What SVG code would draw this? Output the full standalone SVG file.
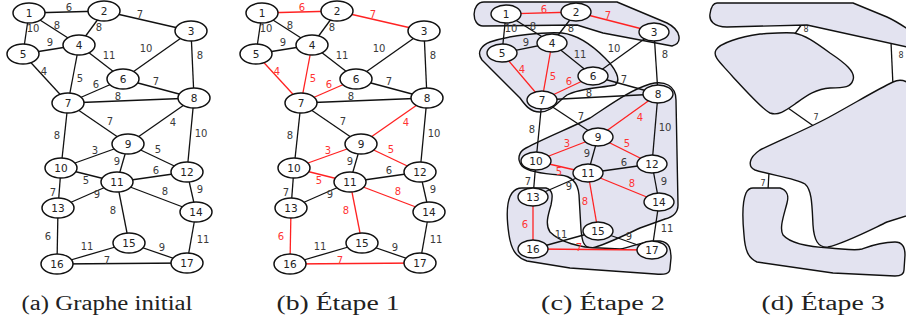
<svg xmlns="http://www.w3.org/2000/svg" width="906" height="322" viewBox="0 0 906 322">
<style>
.e line{stroke:#111;stroke-width:1.3}
.e line.r{stroke:#f22}
.n ellipse{fill:#fff;stroke:#111;stroke-width:1.5}
.n text{font-family:"DejaVu Sans",sans-serif;font-size:10.5px;fill:#222;text-anchor:middle}
.c .n ellipse{stroke-width:1.4}
.l text{font-family:"DejaVu Sans",sans-serif;font-size:10px;fill:#3a3a3a;text-anchor:middle}
.l text.r{fill:#f33}
.blob{fill:#e3e3f0;stroke:#111;stroke-width:1.4;stroke-linejoin:round}
.dl{font-family:"DejaVu Sans",sans-serif;font-size:8px;fill:#333;text-anchor:middle}
</style>
<rect width="906" height="322" fill="#fff"/>

<!-- Panel a -->
<g id="panel-a">
<g id="a-edges" class="e">
<line x1="29" y1="13" x2="104" y2="11"/><line x1="104" y1="11" x2="191" y2="31"/><line x1="29" y1="13" x2="79" y2="45"/><line x1="29" y1="13" x2="23" y2="54"/><line x1="104" y1="11" x2="79" y2="45"/><line x1="23" y1="54" x2="79" y2="45"/><line x1="79" y1="45" x2="123" y2="79"/><line x1="191" y1="31" x2="123" y2="79"/><line x1="191" y1="31" x2="194" y2="98"/><line x1="23" y1="54" x2="68" y2="103"/><line x1="79" y1="45" x2="68" y2="103"/><line x1="68" y1="103" x2="123" y2="79"/><line x1="123" y1="79" x2="194" y2="98"/><line x1="68" y1="103" x2="194" y2="98"/><line x1="68" y1="103" x2="128" y2="144"/><line x1="194" y1="98" x2="128" y2="144"/><line x1="194" y1="98" x2="187" y2="172"/><line x1="68" y1="103" x2="61" y2="168"/><line x1="128" y1="144" x2="61" y2="168"/><line x1="128" y1="144" x2="187" y2="172"/><line x1="128" y1="144" x2="117" y2="182"/><line x1="61" y1="168" x2="117" y2="182"/><line x1="117" y1="182" x2="187" y2="172"/><line x1="187" y1="172" x2="196" y2="212"/><line x1="61" y1="168" x2="58" y2="208"/><line x1="58" y1="208" x2="117" y2="182"/><line x1="117" y1="182" x2="196" y2="212"/><line x1="117" y1="182" x2="129" y2="243"/><line x1="58" y1="208" x2="57" y2="264"/><line x1="196" y1="212" x2="187" y2="263"/><line x1="129" y1="243" x2="57" y2="264"/><line x1="129" y1="243" x2="187" y2="263"/><line x1="57" y1="264" x2="187" y2="263"/>
</g>
<g id="a-labels" class="l">
<text x="69" y="11">6</text><text x="140" y="18">7</text><text x="57" y="29">8</text><text x="33" y="32">10</text><text x="99" y="31">8</text><text x="50" y="46">9</text><text x="109" y="59">11</text><text x="146" y="52">10</text><text x="200" y="59">8</text><text x="44" y="75">4</text><text x="80" y="82">5</text><text x="96" y="88">6</text><text x="156" y="85">7</text><text x="118" y="100">8</text><text x="110" y="125">7</text><text x="173" y="126">4</text><text x="201" y="137">10</text><text x="57" y="139">8</text><text x="95" y="154">3</text><text x="158" y="153">5</text><text x="117" y="165">9</text><text x="86" y="184">5</text><text x="156" y="174">6</text><text x="200" y="193">9</text><text x="53" y="196">7</text><text x="97" y="198">9</text><text x="165" y="195">8</text><text x="113" y="214">8</text><text x="48" y="240">6</text><text x="203" y="243">11</text><text x="87" y="250">11</text><text x="162" y="251">9</text><text x="107" y="264">7</text>
</g>
<g id="a-nodes">
<g id="a1" class="n"><ellipse cx="29" cy="13" rx="16" ry="10"/><text x="29" y="17">1</text></g>
<g id="a2" class="n"><ellipse cx="104" cy="11" rx="16" ry="10"/><text x="104" y="15">2</text></g>
<g id="a3" class="n"><ellipse cx="191" cy="31" rx="16" ry="10"/><text x="191" y="35">3</text></g>
<g id="a4" class="n"><ellipse cx="79" cy="45" rx="16" ry="10"/><text x="79" y="49">4</text></g>
<g id="a5" class="n"><ellipse cx="23" cy="54" rx="16" ry="10"/><text x="23" y="58">5</text></g>
<g id="a6" class="n"><ellipse cx="123" cy="79" rx="16" ry="10"/><text x="123" y="83">6</text></g>
<g id="a7" class="n"><ellipse cx="68" cy="103" rx="16" ry="10"/><text x="68" y="107">7</text></g>
<g id="a8" class="n"><ellipse cx="194" cy="98" rx="16" ry="10"/><text x="194" y="102">8</text></g>
<g id="a9" class="n"><ellipse cx="128" cy="144" rx="16" ry="10"/><text x="128" y="148">9</text></g>
<g id="a10" class="n"><ellipse cx="61" cy="168" rx="16" ry="10"/><text x="61" y="172">10</text></g>
<g id="a11" class="n"><ellipse cx="117" cy="182" rx="16" ry="10"/><text x="117" y="186">11</text></g>
<g id="a12" class="n"><ellipse cx="187" cy="172" rx="16" ry="10"/><text x="187" y="176">12</text></g>
<g id="a13" class="n"><ellipse cx="58" cy="208" rx="16" ry="10"/><text x="58" y="212">13</text></g>
<g id="a14" class="n"><ellipse cx="196" cy="212" rx="16" ry="10"/><text x="196" y="216">14</text></g>
<g id="a15" class="n"><ellipse cx="129" cy="243" rx="16" ry="10"/><text x="129" y="247">15</text></g>
<g id="a16" class="n"><ellipse cx="57" cy="264" rx="16" ry="10"/><text x="57" y="268">16</text></g>
<g id="a17" class="n"><ellipse cx="187" cy="263" rx="16" ry="10"/><text x="187" y="267">17</text></g>
</g>
</g>

<!-- Panel b -->
<g id="panel-b">
<g id="b-edges" class="e">
<line class="r" x1="262" y1="13" x2="337" y2="11"/><line class="r" x1="337" y1="11" x2="424" y2="31"/><line x1="262" y1="13" x2="312" y2="45"/><line x1="262" y1="13" x2="256" y2="54"/><line x1="337" y1="11" x2="312" y2="45"/><line x1="256" y1="54" x2="312" y2="45"/><line x1="312" y1="45" x2="356" y2="79"/><line x1="424" y1="31" x2="356" y2="79"/><line x1="424" y1="31" x2="427" y2="98"/><line class="r" x1="256" y1="54" x2="301" y2="103"/><line class="r" x1="312" y1="45" x2="301" y2="103"/><line class="r" x1="301" y1="103" x2="356" y2="79"/><line x1="356" y1="79" x2="427" y2="98"/><line x1="301" y1="103" x2="427" y2="98"/><line x1="301" y1="103" x2="361" y2="144"/><line class="r" x1="427" y1="98" x2="361" y2="144"/><line x1="427" y1="98" x2="420" y2="172"/><line x1="301" y1="103" x2="294" y2="168"/><line class="r" x1="361" y1="144" x2="294" y2="168"/><line class="r" x1="361" y1="144" x2="420" y2="172"/><line x1="361" y1="144" x2="350" y2="182"/><line class="r" x1="294" y1="168" x2="350" y2="182"/><line x1="350" y1="182" x2="420" y2="172"/><line x1="420" y1="172" x2="429" y2="212"/><line x1="294" y1="168" x2="291" y2="208"/><line x1="291" y1="208" x2="350" y2="182"/><line class="r" x1="350" y1="182" x2="429" y2="212"/><line class="r" x1="350" y1="182" x2="362" y2="243"/><line class="r" x1="291" y1="208" x2="290" y2="264"/><line x1="429" y1="212" x2="420" y2="263"/><line x1="362" y1="243" x2="290" y2="264"/><line x1="362" y1="243" x2="420" y2="263"/><line class="r" x1="290" y1="264" x2="420" y2="263"/>
</g>
<g id="b-labels" class="l">
<text class="r" x="302" y="11">6</text><text class="r" x="373" y="18">7</text><text x="290" y="29">8</text><text x="266" y="32">10</text><text x="332" y="31">8</text><text x="283" y="46">9</text><text x="342" y="59">11</text><text x="379" y="52">10</text><text x="433" y="59">8</text><text class="r" x="277" y="75">4</text><text class="r" x="313" y="82">5</text><text class="r" x="329" y="88">6</text><text x="389" y="85">7</text><text x="351" y="100">8</text><text x="343" y="125">7</text><text class="r" x="406" y="126">4</text><text x="434" y="137">10</text><text x="290" y="139">8</text><text class="r" x="328" y="154">3</text><text class="r" x="391" y="153">5</text><text x="350" y="165">9</text><text class="r" x="319" y="184">5</text><text x="389" y="174">6</text><text x="433" y="193">9</text><text x="286" y="196">7</text><text x="330" y="198">9</text><text class="r" x="398" y="195">8</text><text class="r" x="346" y="214">8</text><text class="r" x="281" y="240">6</text><text x="436" y="243">11</text><text x="320" y="250">11</text><text x="395" y="251">9</text><text class="r" x="340" y="264">7</text>
</g>
<g id="b-nodes">
<g id="b1" class="n"><ellipse cx="262" cy="13" rx="16" ry="10"/><text x="262" y="17">1</text></g>
<g id="b2" class="n"><ellipse cx="337" cy="11" rx="16" ry="10"/><text x="337" y="15">2</text></g>
<g id="b3" class="n"><ellipse cx="424" cy="31" rx="16" ry="10"/><text x="424" y="35">3</text></g>
<g id="b4" class="n"><ellipse cx="312" cy="45" rx="16" ry="10"/><text x="312" y="49">4</text></g>
<g id="b5" class="n"><ellipse cx="256" cy="54" rx="16" ry="10"/><text x="256" y="58">5</text></g>
<g id="b6" class="n"><ellipse cx="356" cy="79" rx="16" ry="10"/><text x="356" y="83">6</text></g>
<g id="b7" class="n"><ellipse cx="301" cy="103" rx="16" ry="10"/><text x="301" y="107">7</text></g>
<g id="b8" class="n"><ellipse cx="427" cy="98" rx="16" ry="10"/><text x="427" y="102">8</text></g>
<g id="b9" class="n"><ellipse cx="361" cy="144" rx="16" ry="10"/><text x="361" y="148">9</text></g>
<g id="b10" class="n"><ellipse cx="294" cy="168" rx="16" ry="10"/><text x="294" y="172">10</text></g>
<g id="b11" class="n"><ellipse cx="350" cy="182" rx="16" ry="10"/><text x="350" y="186">11</text></g>
<g id="b12" class="n"><ellipse cx="420" cy="172" rx="16" ry="10"/><text x="420" y="176">12</text></g>
<g id="b13" class="n"><ellipse cx="291" cy="208" rx="16" ry="10"/><text x="291" y="212">13</text></g>
<g id="b14" class="n"><ellipse cx="429" cy="212" rx="16" ry="10"/><text x="429" y="216">14</text></g>
<g id="b15" class="n"><ellipse cx="362" cy="243" rx="16" ry="10"/><text x="362" y="247">15</text></g>
<g id="b16" class="n"><ellipse cx="290" cy="264" rx="16" ry="10"/><text x="290" y="268">16</text></g>
<g id="b17" class="n"><ellipse cx="420" cy="263" rx="16" ry="10"/><text x="420" y="267">17</text></g>
</g>
</g>

<!-- Panel c -->
<g id="panel-c" class="c">
<g id="c-clusters">
<path id="c-blob1" class="blob" d="M484,2 L617,2 L667,23 C681,30 683,43 672,46 L603,33 L577,25 L483,26 C471,26 471,2 484,2 Z"/>
<path id="c-blob2" class="blob" d="M490,42 C510,35 545,32 562,33 C580,35 595,48 605,58 C615,68 622,80 615,85 C600,88 580,88 567,95 C557,102 552,112 540,112 C530,112 525,105 520,98 L482,60 C476,52 482,45 490,42 Z"/>
<path id="c-blob3" class="blob" d="M650,84 C665,80 676,86 676,100 L678,205 C678,213 673,217 665,219 L640,228 C625,235 605,245 592,248 C583,248 582,240 581,230 L579,195 C578,183 572,176 560,175 C545,174 528,172 522,166 C517,160 518,152 526,148 C545,138 570,128 590,118 C610,105 630,90 650,84 Z"/>
<path id="c-blob4" class="blob" d="M522,188 L546,188 C553,190 553,196 551,205 C548,215 545,225 550,232 C560,242 580,248 600,248 L620,249 C632,247 645,240 660,241 C670,242 671,250 671,258 L670,268 C670,274 665,275 655,274 L570,268 L527,261 C515,257 511,248 509,235 C506,215 507,200 512,193 C515,189 518,188 522,188 Z"/>
</g>
<g id="c-edges" class="e">
<line class="r" x1="506" y1="14" x2="576" y2="12"/><line class="r" x1="576" y1="12" x2="654" y2="32"/><line x1="506" y1="14" x2="552" y2="43"/><line x1="506" y1="14" x2="502" y2="53"/><line x1="576" y1="12" x2="552" y2="43"/><line x1="502" y1="53" x2="552" y2="43"/><line x1="552" y1="43" x2="593" y2="76"/><line x1="654" y1="32" x2="593" y2="76"/><line x1="654" y1="32" x2="658" y2="94"/><line class="r" x1="502" y1="53" x2="542" y2="100"/><line class="r" x1="552" y1="43" x2="542" y2="100"/><line class="r" x1="542" y1="100" x2="593" y2="76"/><line x1="593" y1="76" x2="658" y2="94"/><line x1="542" y1="100" x2="658" y2="94"/><line x1="542" y1="100" x2="598" y2="137"/><line class="r" x1="658" y1="94" x2="598" y2="137"/><line x1="658" y1="94" x2="652" y2="164"/><line x1="542" y1="100" x2="536" y2="161"/><line class="r" x1="598" y1="137" x2="536" y2="161"/><line class="r" x1="598" y1="137" x2="652" y2="164"/><line x1="598" y1="137" x2="588" y2="173"/><line class="r" x1="536" y1="161" x2="588" y2="173"/><line x1="588" y1="173" x2="652" y2="164"/><line x1="652" y1="164" x2="659" y2="202"/><line x1="536" y1="161" x2="533" y2="197"/><line x1="533" y1="197" x2="588" y2="173"/><line class="r" x1="588" y1="173" x2="659" y2="202"/><line class="r" x1="588" y1="173" x2="598" y2="231"/><line class="r" x1="533" y1="197" x2="533" y2="249"/><line x1="659" y1="202" x2="652" y2="250"/><line x1="598" y1="231" x2="533" y2="249"/><line x1="598" y1="231" x2="652" y2="250"/><line class="r" x1="533" y1="249" x2="652" y2="250"/>
</g>
<g id="c-labels" class="l">
<text class="r" x="544" y="13">6</text><text class="r" x="608" y="19">7</text><text x="533" y="30">8</text><text x="511" y="32">10</text><text x="571" y="32">8</text><text x="526" y="46">9</text><text x="580" y="58">11</text><text x="614" y="52">10</text><text x="665" y="58">8</text><text class="r" x="522" y="73">4</text><text class="r" x="553" y="80">5</text><text class="r" x="569" y="85">6</text><text x="624" y="83">7</text><text x="589" y="97">8</text><text x="581" y="120">7</text><text class="r" x="640" y="121">4</text><text x="665" y="131">10</text><text x="532" y="133">8</text><text class="r" x="567" y="147">3</text><text class="r" x="627" y="147">5</text><text x="587" y="157">9</text><text class="r" x="559" y="175">5</text><text x="624" y="166">6</text><text x="664" y="185">9</text><text x="528" y="185">7</text><text x="569" y="190">9</text><text class="r" x="632" y="187">8</text><text class="r" x="585" y="205">8</text><text class="r" x="525" y="228">6</text><text x="667" y="232">11</text><text x="561" y="238">11</text><text x="629" y="240">9</text><text class="r" x="579" y="251">7</text>
</g>
<g id="c-nodes">
<g id="c1" class="n"><ellipse cx="506" cy="14" rx="15" ry="9"/><text x="506" y="18">1</text></g>
<g id="c2" class="n"><ellipse cx="576" cy="12" rx="15" ry="9"/><text x="576" y="16">2</text></g>
<g id="c3" class="n"><ellipse cx="654" cy="32" rx="15" ry="9"/><text x="654" y="36">3</text></g>
<g id="c4" class="n"><ellipse cx="552" cy="43" rx="15" ry="9"/><text x="552" y="47">4</text></g>
<g id="c5" class="n"><ellipse cx="502" cy="53" rx="15" ry="9"/><text x="502" y="57">5</text></g>
<g id="c6" class="n"><ellipse cx="593" cy="76" rx="15" ry="9"/><text x="593" y="80">6</text></g>
<g id="c7" class="n"><ellipse cx="542" cy="100" rx="15" ry="9"/><text x="542" y="104">7</text></g>
<g id="c8" class="n"><ellipse cx="658" cy="94" rx="15" ry="9"/><text x="658" y="98">8</text></g>
<g id="c9" class="n"><ellipse cx="598" cy="137" rx="15" ry="9"/><text x="598" y="141">9</text></g>
<g id="c10" class="n"><ellipse cx="536" cy="161" rx="15" ry="9"/><text x="536" y="165">10</text></g>
<g id="c11" class="n"><ellipse cx="588" cy="173" rx="15" ry="9"/><text x="588" y="177">11</text></g>
<g id="c12" class="n"><ellipse cx="652" cy="164" rx="15" ry="9"/><text x="652" y="168">12</text></g>
<g id="c13" class="n"><ellipse cx="533" cy="197" rx="15" ry="9"/><text x="533" y="201">13</text></g>
<g id="c14" class="n"><ellipse cx="659" cy="202" rx="15" ry="9"/><text x="659" y="206">14</text></g>
<g id="c15" class="n"><ellipse cx="598" cy="231" rx="15" ry="9"/><text x="598" y="235">15</text></g>
<g id="c16" class="n"><ellipse cx="533" cy="249" rx="15" ry="9"/><text x="533" y="253">16</text></g>
<g id="c17" class="n"><ellipse cx="652" cy="250" rx="15" ry="9"/><text x="652" y="254">17</text></g>
</g>
</g>

<!-- Panel d -->
<g id="panel-d">
<g id="d-edges" class="e">
<line x1="802" y1="24" x2="794" y2="35"/>
<line x1="891" y1="42" x2="893" y2="86"/>
<line x1="788" y1="108" x2="822" y2="132"/>
<line x1="769" y1="172" x2="768" y2="190"/>
</g>
<g id="d-top" ><path class="blob" d="M717,3 L853,3 L887,17 C898,22 906,28 912,32 L912,48 L807,25 L727,27 C713,27 709,20 710,14 C711,7 713,3 717,3 Z"/></g>
<g id="d-left"><path class="blob" d="M794,33 C805,35 815,42 830,53 C845,63 856,72 853,80 C851,87 845,88 830,88 C815,89 805,97 795,104 C785,111 778,116 770,113 C763,110 745,90 733,77 C722,64 712,57 716,50 C720,43 740,37 760,34 C775,33 785,32 794,33 Z"/></g>
<g id="d-big"><path class="blob" d="M893,82 C880,88 860,100 833,115 C810,128 780,140 760,150 C748,158 748,167 755,170 C770,175 795,178 805,184 C812,190 812,205 813,225 C814,240 818,248 828,247 C845,243 870,230 887,222 L912,214 L912,86 C906,80 899,79 893,82 Z"/></g>
<g id="d-bottom"><path class="blob" d="M753,188 L780,188 C787,190 789,196 787,203 C784,215 779,228 783,235 C790,243 810,247 830,248 C845,249 855,251 862,249 C870,246 880,242 895,242 C903,242 905,248 905,255 L904,270 C904,275 900,276 895,276 L833,273 L757,262 C748,258 745,250 744,235 C742,215 743,200 746,193 C748,189 750,188 753,188 Z"/></g>
<g id="d-labels">
<text class="dl" x="806" y="32">8</text>
<text class="dl" x="901" y="58">8</text>
<text class="dl" x="816" y="120">7</text>
<text class="dl" x="763" y="186">7</text>
</g>
</g>

<g id="captions" font-family="'Liberation Serif','DejaVu Serif','Times New Roman',serif" font-size="20" fill="#222" text-anchor="middle">
<text x="107" y="310" textLength="171" lengthAdjust="spacingAndGlyphs">(a) Graphe initial</text>
<text x="338" y="310" textLength="123" lengthAdjust="spacingAndGlyphs">(b) Étape 1</text>
<text x="603" y="310" textLength="124" lengthAdjust="spacingAndGlyphs">(c) Étape 2</text>
<text x="823" y="310" textLength="123" lengthAdjust="spacingAndGlyphs">(d) Étape 3</text>
</g>
</svg>
